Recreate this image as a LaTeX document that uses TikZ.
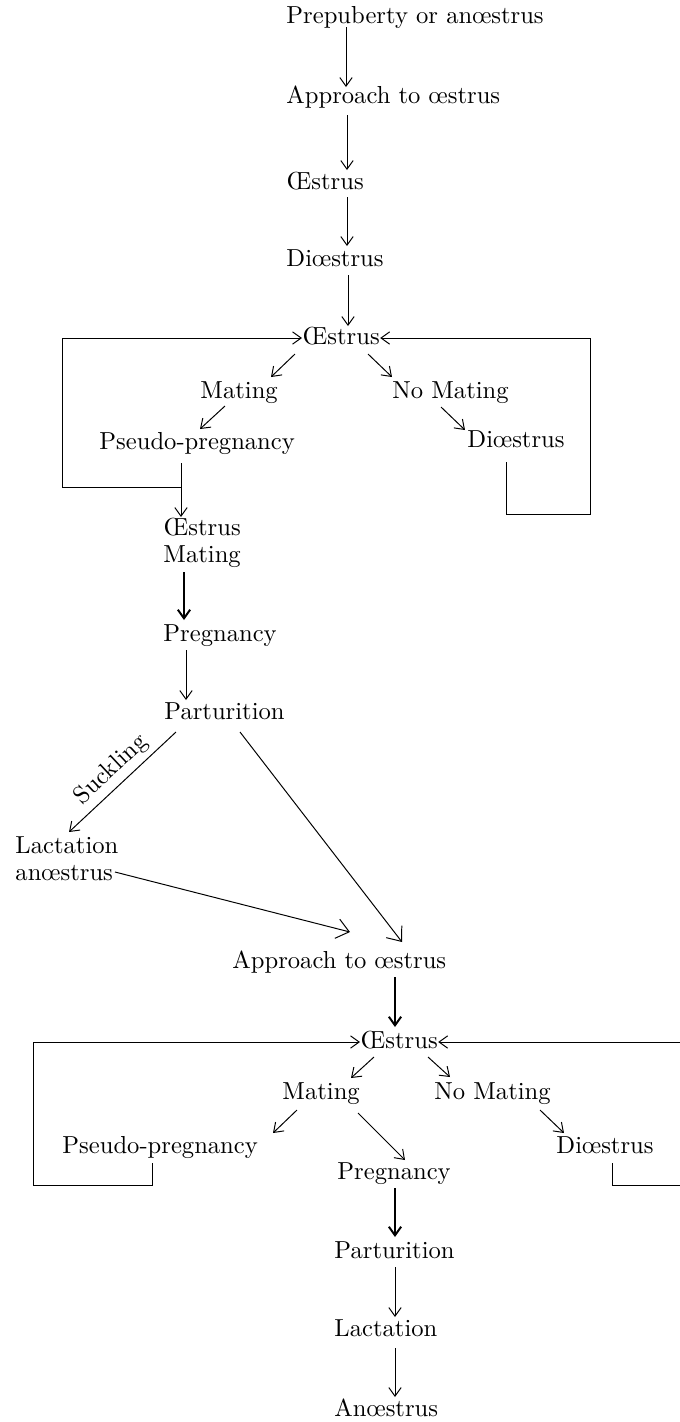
\documentclass[tikz,border=0pt]{standalone}
\usepackage{fontspec}
\usetikzlibrary{arrows.meta,calc}
\begin{document}
\begin{tikzpicture}[x=0.4065pt,y=-0.4065pt,
  lbl/.style={inner sep=0pt,anchor=west,text height=6.94pt,text depth=1.94pt,font=\fontsize{10}{11}\selectfont},
  lbltwo/.style={inner sep=0pt,anchor=west,align=left,font=\fontsize{10}{11}\selectfont},
  arr/.style={-{Straight Barb[length=3.5pt,width=5pt]},line width=0.4pt},
  tarr/.style={arr,line width=0.8pt},
  barr/.style={-{Straight Barb[length=5pt,width=8pt]},line width=0.4pt},
  ln/.style={line width=0.4pt}]
\useasboundingbox (0,0) rectangle (680,1422);
% nodes
\node[lbl] (pre) at (286,17) {Prepuberty or anœstrus};
\node[lbl] (app1) at (286,97) {Approach to œstrus};
\node[lbl] (oes1) at (286,183) {Œstrus};
\node[lbl] (dio1) at (286,260) {Diœstrus};
\node[lbl] (oes2) at (302,338) {Œstrus};
\node[lbl] (mat1) at (200,392) {Mating};
\node[lbl] (nom1) at (392,392) {No Mating};
\node[lbl] (psd1) at (99,443) {Pseudo-pregnancy};
\node[lbl] (dio2) at (467,441) {Diœstrus};
\node[lbl] (oes3) at (163,529) {Œstrus};
\node[lbl] (mat2) at (163,556) {Mating};
\node[lbl] (prg1) at (163,635) {Pregnancy};
\node[lbl] (par1) at (164,713) {Parturition};
\node[lbltwo] (lac1) at (15,859) {Lactation\\anœstrus};
\node[lbl] (app2) at (232,962) {Approach to œstrus};
\node[lbl] (oes4) at (360,1042) {Œstrus};
\node[lbl] (mat3) at (282,1093) {Mating};
\node[lbl] (nom2) at (434,1093) {No Mating};
\node[lbl] (psd2) at (62,1147) {Pseudo-pregnancy};
\node[lbl] (prg2) at (337,1173) {Pregnancy};
\node[lbl] (dio3) at (556,1147) {Diœstrus};
\node[lbl] (par2) at (334,1252) {Parturition};
\node[lbl] (lac2) at (334,1330) {Lactation};
\node[lbl] (ano) at (334,1410) {Anœstrus};
% top chain
\draw[arr] ($(pre.west)+(60,10)$) -- ($(app1.west)+(60,-10)$);
\draw[arr] ($(app1.west)+(61,18)$) -- ($(oes1.west)+(61,-13)$);
\draw[arr] ($(oes1.west)+(61,14)$) -- ($(dio1.west)+(61,-14)$);
\draw[arr] ($(dio1.west)+(62,15)$) -- ($(oes2.west)+(46,-12)$);
% first cycle
\coordinate (j1) at (181,487);
\coordinate (l1) at (62,338);
\draw[arr] (j1) -| (l1) -- (oes2.west);
\coordinate (r1) at (590,514);
\draw[arr] ($(dio2.west)+(39,21)$) |- (r1) |- (oes2.east);
\draw[arr] ($(oes2.west)+(-7,16)$) -- ($(mat1.west)+(71,-15)$);
\draw[arr] ($(oes2.west)+(66,16)$) -- ($(nom1.west)+(0,-15)$);
\draw[arr] ($(mat1.west)+(25,14)$) -- ($(psd1.west)+(101,-14)$);
\draw[arr] ($(nom1.west)+(49,15)$) -- ($(dio2.west)+(-2,-11)$);
\draw[arr] ($(psd1.west)+(82,20)$) -- ($(oes3.west)+(18,-12)$);
\draw[tarr] ($(mat2.west)+(21,16)$) -- ($(prg1.west)+(21,-15)$);
\draw[arr] ($(prg1.west)+(23,15)$) -- ($(par1.west)+(22,-13)$);
% after parturition
\draw[arr] ($(par1.west)+(12,19)$) -- node[sloped,above=1pt,pos=0.5,inner sep=1pt,font=\fontsize{10}{11}\selectfont]{Suckling} ($(lac1.west)+(54,-27)$);
\draw[barr] ($(par1.west)+(76,19)$) -- ($(app2.west)+(170,-20)$);
\draw[barr] ($(lac1.west)+(100,13)$) -- ($(app2.west)+(118,-30)$);
\draw[tarr] ($(app2.west)+(163,15)$) -- ($(oes4.west)+(35,-15)$);
% second cycle
\coordinate (l2) at (33,1185);
\draw[arr] ($(psd2.west)+(90,16)$) |- (l2) |- (oes4.west);
\coordinate (rb) at (680,1185);
\coordinate (rt) at (680,1042);
\draw[ln] ($(dio3.west)+(56,16)$) |- (rb);
\draw[arr] (rt) -- (oes4.east);
\draw[arr] ($(oes4.west)+(14,15)$) -- ($(mat3.west)+(69,-15)$);
\draw[arr] ($(oes4.west)+(68,15)$) -- ($(nom2.west)+(16,-16)$);
\draw[arr] ($(mat3.west)+(15,17)$) -- ($(psd2.west)+(211,-14)$);
\draw[arr] ($(mat3.west)+(76,20)$) -- ($(prg2.west)+(68,-13)$);
\draw[arr] ($(nom2.west)+(106,17)$) -- ($(dio3.west)+(8,-14)$);
\draw[tarr] ($(prg2.west)+(58,15)$) -- ($(par2.west)+(61,-15)$);
\draw[arr] ($(par2.west)+(61,15)$) -- ($(lac2.west)+(61,-13)$);
\draw[arr] ($(lac2.west)+(61,18)$) -- ($(ano.west)+(61,-13)$);
\end{tikzpicture}
\end{document}
